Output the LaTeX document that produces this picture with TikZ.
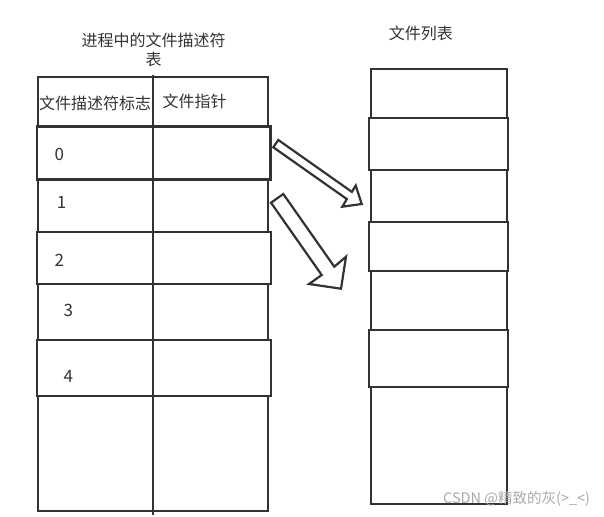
\documentclass[tikz,border=0pt]{standalone}
\usepackage{fontspec}
\newfontfamily\cjk{Noto Sans CJK SC}
\definecolor{lc}{HTML}{333333}
\definecolor{tc}{HTML}{333333}
\definecolor{wm}{HTML}{AAAAAA}
\begin{document}
\begin{tikzpicture}[x=1pt,y=-1pt,
  cell/.style={draw=lc, fill=white, line width=2.5pt, inner sep=0pt, outer sep=0pt},
  lbl/.style={font=\cjk\fontsize{16}{18.5}\selectfont, text=tc, inner sep=0pt},
  num/.style={font=\cjk\fontsize{17}{18}\selectfont, text=tc, inner sep=0pt},
  blockarrow/.style={draw=lc, fill=white, line width=2.2pt, line join=miter}]
\useasboundingbox (0,0) rectangle (604,516);
% left table
\node[cell, minimum width=230pt, minimum height=434pt] (ltab) at (153,294) {};
\node[cell, minimum width=233.5pt, minimum height=52.8pt] (lrow0) at (153.75,152.9) {};
\node[cell, minimum width=234pt, minimum height=52pt] (lrow2) at (154,258) {};
\node[cell, minimum width=234pt, minimum height=56pt] (lrow4) at (154,368) {};
\coordinate (mtop) at (153,75);
\coordinate (mbot) at (153,515);
\draw[draw=lc, line width=2.5pt] (mtop) -- (mbot);
% right table
\node[cell, minimum width=136pt, minimum height=435pt] (rtab) at (439,286.5) {};
\node[cell, minimum width=139pt, minimum height=52pt] (rrow1) at (438.5,144) {};
\node[cell, minimum width=139pt, minimum height=49pt] (rrow2) at (438.5,246.5) {};
\node[cell, minimum width=139pt, minimum height=57pt] (rrow3) at (438.5,358.5) {};
% texts
\node[lbl, align=center] (ttl) at (153.5,50) {进程中的文件描述符\\表};
\node[lbl] (rttl) at (420.8,33.5) {文件列表};
\node[lbl] (h1) at (95,103.5) {文件描述符标志};
\node[lbl] (h2) at (194.7,101) {文件指针};
\node[num] (d0) at (59.3,154.5) {0};
\node[num] (d1) at (61.7,202.7) {1};
\node[num] (d2) at (59.3,260) {2};
\node[num] (d3) at (68.3,310) {3};
\node[num] (d4) at (68.3,376) {4};
% block arrows
\draw[blockarrow] (278.3,140) -- (351.9,191.9) -- (355.7,185.5) -- (361.7,204) -- (342.3,206.7) -- (346.9,199.1) -- (273.3,147.3) -- cycle;
\draw[blockarrow] (283.3,194) -- (334.3,266.7) -- (346,256.7) -- (341,288.7) -- (309,284) -- (321.7,275) -- (271,202.7) -- cycle;
% watermark
\node[font=\cjk\fontsize{14.5}{16}\selectfont, text=wm, anchor=west, inner sep=0pt] (wmk) at (443,499) {CSDN @精致的灰(>\_<)};
\end{tikzpicture}
\end{document}
